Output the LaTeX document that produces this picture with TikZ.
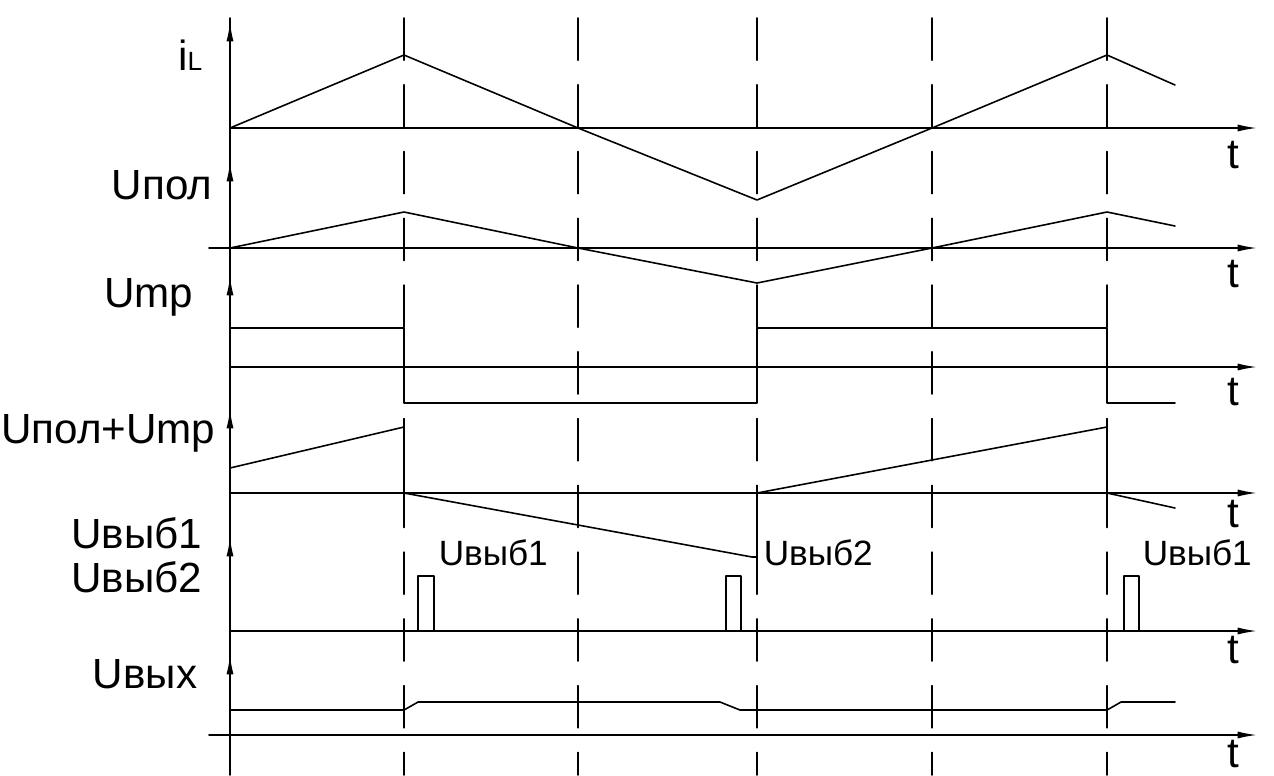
\documentclass[tikz,border=0pt]{standalone}
\usepackage{fontspec}
\setmainfont{Liberation Sans}
\usetikzlibrary{arrows.meta}
\tikzset{lbl/.style={font=\fontsize{24}{28}\selectfont,inner sep=0pt},
  lblsm/.style={font=\fontsize{20}{24}\selectfont,inner sep=0pt}}

\begin{document}
\begin{tikzpicture}[line cap=round,line join=round,>={Latex[length=11pt,width=4pt]},x=0.02cm,y=-0.02cm,line width=0.9pt]
\clip(0,0) rectangle (1274,775);
% vertical axis and its arrows
\draw (230,18)-- (230,775);
\draw [->] (230,44)-- (230,22);
\draw [->] (230,183)-- (230,162);
\draw [->] (230,297)-- (230,276);
\draw [->] (230,430)-- (230,409);
\draw [->] (230,558)-- (230,537);
\draw [->] (230,676)-- (230,655);
% time axes
\draw [->] (230,128)-- (1257,128);
\draw [->] (209,248)-- (1257,248);
\draw [->] (230,367)-- (1257,367);
\draw [->] (230,493)-- (1257,493);
\draw [->] (230,631)-- (1257,631);
\draw [->] (209,735)-- (1257,735);
% switching instants
\draw [dash pattern=on 24pt off 14pt] (404,18)-- (404,775);
\draw [dash pattern=on 24pt off 14pt] (578,18)-- (578,775);
\draw [dash pattern=on 24pt off 14pt] (757,18)-- (757,775);
\draw [dash pattern=on 24pt off 14pt] (932,18)-- (932,775);
\draw [dash pattern=on 24pt off 14pt] (1107,18)-- (1107,775);
% iL
\draw (230,128)-- (404,55)-- (578,128)-- (757,200)-- (932,128)-- (1107,55)-- (1175,85);
% Upol
\draw (230,248)-- (404,212)-- (578,248)-- (757,283)-- (932,248)-- (1107,212)-- (1175,226);
% Utr
\draw (230,328)-- (404,328)-- (404,403)-- (757,403)-- (757,328)-- (1107,328)-- (1107,403)-- (1175,403);
% Upol+Utr
\draw (230,468)-- (404,427)-- (404,493)-- (752,557)-- (757,557)-- (757,493)-- (1107,427)-- (1107,493)-- (1175,508);
% Uvyb pulses
\draw (418,631)-- (418,576)-- (434,576)-- (434,631);
\draw (726,631)-- (726,576)-- (741,576)-- (741,631);
\draw (1124,631)-- (1124,576)-- (1139,576)-- (1139,631);
% Uvyh
\draw (230,710)-- (404,710)-- (418,702)-- (720,702)-- (740,710)-- (1107,710)-- (1121,702)-- (1175,702);
% labels
\node [lbl,anchor=base east] (labiL) at (203,70) {i{\fontsize{15}{16}\selectfont L}};
\node [lbl,anchor=base east] (labUpol) at (213,199) {Uпол};
\node [lbl,anchor=base east] (labUtr) at (194,307) {Ump};
\node [lbl,anchor=base east] (labSum) at (216,443) {Uпол+Ump};
\node [lbl,anchor=base east] (labUvyb1) at (203,548) {Uвыб1};
\node [lbl,anchor=base east] (labUvyb2) at (203,592) {Uвыб2};
\node [lbl,anchor=base east] (labUvyh) at (198,688) {Uвых};
\node [lblsm,anchor=base west] (pulseA) at (438,565) {Uвыб1};
\node [lblsm,anchor=base west] (pulseB) at (763,565) {Uвыб2};
\node [lblsm,anchor=base west] (pulseC) at (1142,565) {Uвыб1};
\node [lbl,anchor=base] (tA) at (1233,168) {t};
\node [lbl,anchor=base] (tB) at (1233,287) {t};
\node [lbl,anchor=base] (tC) at (1233,405) {t};
\node [lbl,anchor=base] (tD) at (1233,527) {t};
\node [lbl,anchor=base] (tE) at (1233,663) {t};
\node [lbl,anchor=base] (tF) at (1233,767) {t};
\end{tikzpicture}
\end{document}
